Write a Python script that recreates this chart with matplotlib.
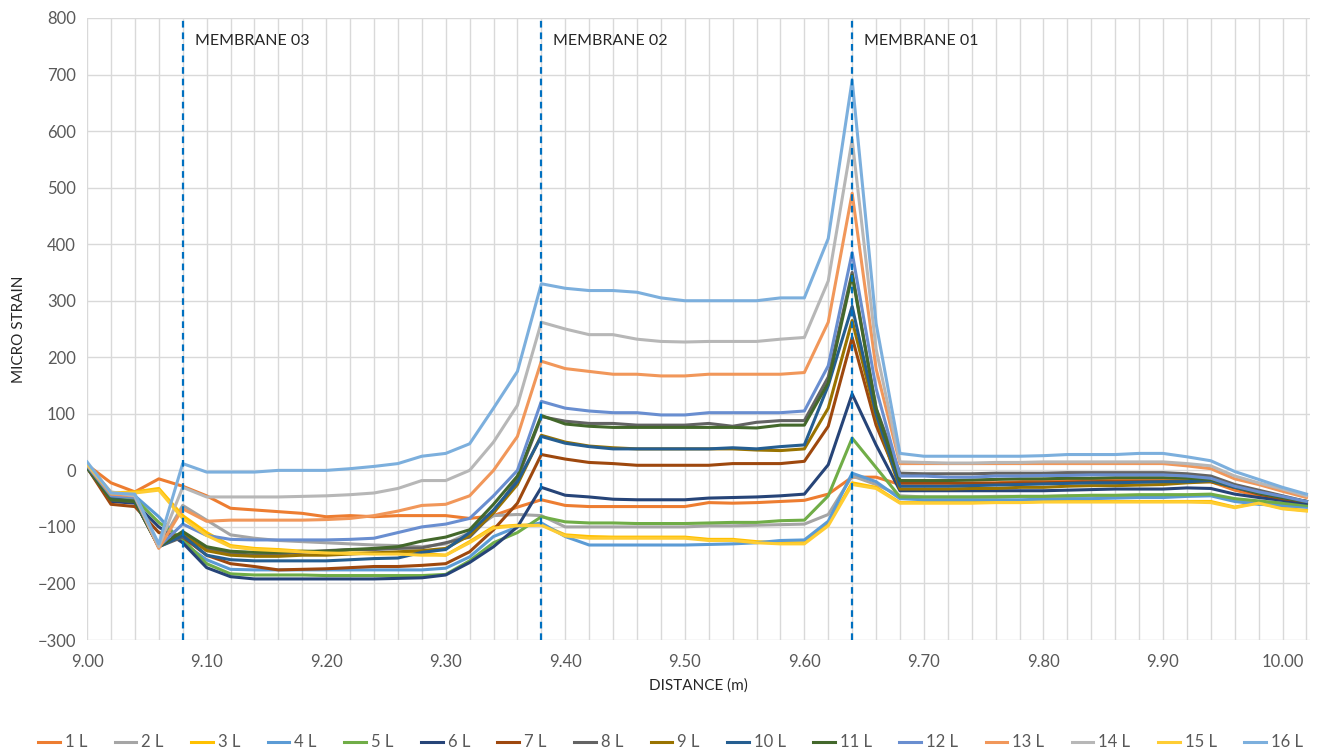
import numpy as np
from matplotlib import pyplot as plt
from matplotlib.ticker import MultipleLocator, FormatStrFormatter

plt.rcParams['font.family'] = ['Lato', 'DejaVu Sans']

distance = np.round(np.arange(9.00, 10.021, 0.02), 2)

labels = ["1 L", "2 L", "3 L", "4 L", "5 L", "6 L", "7 L", "8 L",
          "9 L", "10 L", "11 L", "12 L", "13 L", "14 L", "15 L", "16 L"]
colors = ["#ED7D31", "#A5A5A5", "#FFC000", "#5B9BD5", "#70AD47", "#264478",
          "#9E480E", "#636363", "#997300", "#255E91", "#43682B", "#698ED0",
          "#F1975A", "#B7B7B7", "#FFCD33", "#7CAFDD"]

s1 = [10, -22, -38, -15, -28, -45, -67, -70, -73, -76, -82, -80, -82, -80, -80, -80, -85, -80,
      -65, -52, -62, -64, -64, -64, -64, -64, -57, -58, -57, -55, -53, -42, -12, -12, -25, -25,
      -24, -22, -22, -20, -18, -18, -15, -18, -17, -16, -18, -20, -35, -45, -52, -60]
s2 = [8, -45, -48, -135, -62, -88, -114, -120, -124, -126, -128, -130, -132, -133, -135, -130, -110, -80,
      -78, -80, -100, -100, -100, -100, -100, -100, -98, -98, -97, -96, -95, -78, -10, -25, -45, -47,
      -47, -47, -46, -46, -46, -45, -45, -45, -45, -44, -44, -43, -52, -58, -62, -65]
s3 = [12, -40, -38, -32, -80, -110, -133, -138, -140, -143, -145, -146, -146, -147, -147, -150, -126, -100,
      -97, -96, -114, -117, -118, -118, -118, -118, -122, -122, -126, -128, -128, -95, -22, -30, -57, -57,
      -57, -57, -56, -56, -55, -55, -55, -55, -55, -55, -55, -55, -65, -57, -67, -71]
s4 = [12, -42, -45, -82, -128, -158, -175, -176, -176, -176, -176, -176, -176, -176, -176, -173, -153, -117,
      -100, -93, -117, -132, -132, -132, -132, -132, -131, -130, -128, -124, -123, -90, -5, -20, -50, -52,
      -52, -52, -52, -52, -51, -50, -50, -49, -48, -48, -46, -45, -55, -60, -62, -65]
s5 = [10, -48, -50, -92, -122, -165, -183, -185, -185, -185, -186, -186, -186, -186, -186, -184, -160, -128,
      -110, -82, -91, -93, -93, -94, -94, -94, -93, -92, -92, -89, -88, -45, 57, 5, -47, -47,
      -47, -47, -47, -46, -46, -45, -44, -44, -43, -43, -43, -42, -50, -54, -58, -62]
s6 = [5, -55, -58, -100, -128, -172, -188, -192, -192, -192, -192, -192, -192, -191, -190, -185, -163, -135,
      -100, -30, -44, -47, -51, -52, -52, -52, -49, -48, -47, -45, -42, 10, 135, 45, -36, -36,
      -36, -36, -36, -36, -36, -35, -34, -33, -33, -33, -31, -32, -42, -48, -53, -58]
s7 = [5, -60, -64, -110, -118, -150, -165, -170, -176, -175, -174, -172, -170, -170, -168, -165, -144, -105,
      -58, 28, 20, 14, 12, 9, 9, 9, 9, 12, 12, 12, 16, 78, 235, 80, -22, -22,
      -22, -23, -23, -22, -22, -21, -20, -20, -20, -20, -20, -20, -30, -42, -50, -55]
s8 = [5, -52, -55, -135, -118, -138, -147, -150, -148, -145, -142, -140, -140, -138, -137, -128, -118, -75,
      -15, 95, 87, 83, 83, 80, 80, 80, 83, 78, 85, 88, 88, 165, 350, 110, -5, -6,
      -6, -6, -5, -5, -5, -4, -4, -4, -4, -4, -6, -10, -25, -35, -45, -55]
s9 = [5, -50, -55, -135, -112, -142, -150, -152, -152, -150, -150, -148, -146, -144, -142, -138, -115, -75,
      -25, 62, 50, 43, 40, 38, 38, 38, 38, 38, 36, 35, 38, 110, 265, 95, -33, -33,
      -33, -32, -32, -30, -30, -28, -27, -27, -26, -25, -22, -20, -30, -40, -48, -55]
s10 = [5, -50, -55, -135, -115, -150, -158, -160, -160, -160, -160, -158, -156, -155, -145, -140, -110, -70,
       -20, 60, 48, 42, 38, 38, 38, 38, 38, 40, 38, 42, 45, 150, 290, 100, -28, -28,
       -28, -27, -26, -25, -24, -23, -22, -22, -21, -20, -20, -18, -30, -40, -48, -55]
s11 = [5, -52, -55, -135, -108, -135, -143, -145, -145, -143, -143, -140, -138, -135, -125, -118, -105, -60,
       -10, 97, 82, 78, 76, 76, 76, 76, 76, 76, 75, 80, 80, 155, 345, 110, -18, -18,
       -18, -17, -16, -15, -15, -14, -14, -13, -13, -13, -14, -16, -28, -40, -48, -55]
s12 = [8, -45, -48, -135, -95, -115, -122, -123, -123, -123, -123, -122, -120, -110, -100, -95, -85, -45,
       0, 122, 110, 105, 102, 102, 98, 98, 102, 102, 102, 102, 105, 185, 385, 145, -10, -10,
       -12, -12, -10, -10, -9, -9, -8, -8, -8, -8, -10, -14, -28, -38, -46, -55]
s13 = [10, -42, -45, -138, -68, -90, -88, -88, -88, -88, -87, -85, -80, -72, -62, -60, -45, 0,
       60, 193, 180, 175, 170, 170, 167, 167, 170, 170, 170, 170, 173, 262, 490, 180, 12, 12,
       12, 12, 12, 12, 12, 12, 12, 12, 12, 12, 8, 3, -15, -25, -37, -48]
s14 = [10, -38, -45, -135, -30, -47, -47, -47, -47, -46, -45, -43, -40, -32, -18, -18, 0, 50,
       115, 262, 250, 240, 240, 232, 228, 227, 228, 228, 228, 232, 235, 335, 585, 215, 15, 14,
       13, 13, 14, 14, 15, 15, 15, 15, 15, 15, 12, 8, -10, -22, -33, -45]
s15 = [12, -40, -40, -35, -85, -115, -135, -140, -142, -144, -146, -147, -148, -148, -150, -150, -128, -102,
       -98, -97, -116, -120, -120, -120, -120, -120, -124, -124, -128, -130, -130, -98, -25, -32, -58, -58,
       -58, -58, -57, -57, -56, -56, -56, -56, -56, -56, -56, -57, -66, -58, -68, -72]
s16 = [15, -40, -42, -130, 12, -3, -3, -3, 0, 0, 0, 3, 7, 12, 25, 30, 47, 110,
       175, 330, 322, 318, 318, 315, 305, 300, 300, 300, 300, 305, 305, 410, 690, 260, 30, 25,
       25, 25, 25, 25, 26, 28, 28, 28, 30, 30, 24, 17, -2, -16, -30, -42]

series = [s1, s2, s3, s4, s5, s6, s7, s8, s9, s10, s11, s12, s13, s14, s15, s16]

membranes = [9.08, 9.38, 9.64]
membrane_labels = ["MEMBRANE 03", "MEMBRANE 02", "MEMBRANE 01"]

fig = plt.figure(figsize=(13.25, 7.49), dpi=100)
ax = fig.add_axes([0.0657, 0.1455, 0.9230, 0.8305])

for s, lab, c in zip(series, labels, colors):
    ax.plot(distance, s, color=c, lw=2.2, label=lab, solid_joinstyle='round')

for m, t in zip(membranes, membrane_labels):
    ax.axvline(m, color="#0070C0", lw=1.6, ls=(0, (3, 2.2)), zorder=5)
    ax.text(m + 0.01, 760, t, fontsize=11.5, color="#262626", va="center", ha="left")

ax.set_xlim(9.0, 10.023)
ax.set_ylim(-300, 800)
ax.xaxis.set_major_locator(MultipleLocator(0.1))
ax.xaxis.set_minor_locator(MultipleLocator(0.02))
ax.xaxis.set_major_formatter(FormatStrFormatter('%.2f'))
ax.yaxis.set_major_locator(MultipleLocator(100))
ax.grid(True, which='both', color="#D9D9D9", lw=1)
ax.set_axisbelow(True)
for sp in ax.spines.values():
    sp.set_visible(False)
ax.tick_params(which='both', length=0, labelsize=12, colors="#595959")
ax.tick_params(axis='x', pad=10)
ax.tick_params(axis='y', pad=8)
ax.set_xlabel("DISTANCE (m)", fontsize=11, color="#262626", labelpad=6)
ax.set_ylabel("MICRO STRAIN", fontsize=11, color="#262626", labelpad=8)

fig.legend(loc="lower center", ncol=16, frameon=False, bbox_to_anchor=(0.506, -0.022),
           fontsize=12, handlelength=1.3, handletextpad=0.3, columnspacing=1.65,
           labelcolor="#595959")

plt.savefig("out.png", dpi=100)
